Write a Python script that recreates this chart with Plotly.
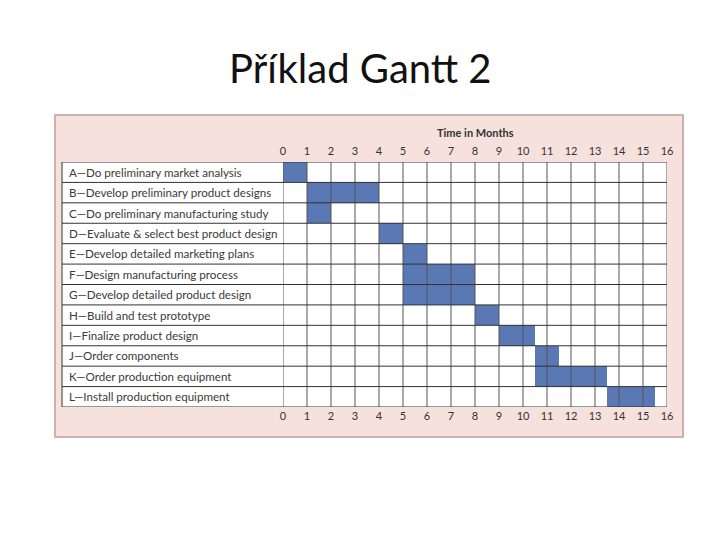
import plotly.graph_objects as go

tasks = [
    "A—Do preliminary market analysis",
    "B—Develop preliminary product designs",
    "C—Do preliminary manufacturing study",
    "D—Evaluate & select best product design",
    "E—Develop detailed marketing plans",
    "F—Design manufacturing process",
    "G—Develop detailed product design",
    "H—Build and test prototype",
    "I—Finalize product design",
    "J—Order components",
    "K—Order production equipment",
    "L—Install production equipment",
]
starts = [0, 1, 1, 4, 5, 5, 5, 8, 9, 10.5, 10.5, 13.5]
ends = [1, 4, 2, 5, 6, 8, 8, 9, 10.5, 11.5, 13.5, 15.5]
months = list(range(0, 17))

n = len(tasks)
dur = [e - s for s, e in zip(starts, ends)]
rows = [i + 0.5 for i in range(n)]

OFF = 8  # page body margin
W, H = 720, 540
L = 62 - OFF
R = W - (667 - OFF)
T = 162 - OFF
B = H - (407 - OFF)
pw = W - L - R
ph = H - T - B
dom0 = (283 - 62) / pw

def px_x(p):
    return (p - OFF - L) / pw
def px_y(p):
    return (H - B - (p - OFF)) / ph

fig = go.Figure()
fig.add_trace(go.Bar(
    y=rows, x=dur, base=starts, orientation="h", width=1,
    marker=dict(color="#5a78b3", line=dict(width=0)),
    hoverinfo="skip", showlegend=False,
))
fig.add_trace(go.Scatter(x=[0, 16], y=[0, 0], xaxis="x2", mode="markers",
                         marker=dict(opacity=0), showlegend=False, hoverinfo="skip"))

shapes = []
# pink panel
shapes.append(dict(type="rect", xref="paper", yref="paper",
                   x0=px_x(55), x1=px_x(683), y0=px_y(437), y1=px_y(115),
                   fillcolor="#f6e1dc", line=dict(color="#cdb0b0", width=2), layer="below"))
# white table area
shapes.append(dict(type="rect", xref="paper", yref="paper",
                   x0=0, x1=1, y0=0, y1=1, fillcolor="white",
                   line=dict(width=0), layer="below"))
# vertical grid lines
for m in months:
    shapes.append(dict(type="line", xref="x", yref="paper", x0=m, x1=m, y0=0, y1=1,
                       line=dict(color="#555555", width=1), layer="above"))
# horizontal row lines
for i in range(n + 1):
    shapes.append(dict(type="line", xref="paper", yref="y", x0=0, x1=1, y0=i, y1=i,
                       line=dict(color="#333333", width=1), layer="above"))
# left border of label column
shapes.append(dict(type="line", xref="paper", yref="paper", x0=0, x1=0, y0=0, y1=1,
                   line=dict(color="#333333", width=1), layer="above"))

annotations = []
for i, t in enumerate(tasks):
    annotations.append(dict(text=t, xref="paper", yref="y", x=px_x(67), y=i + 0.5,
                            xanchor="left", yanchor="middle", showarrow=False,
                            font=dict(family="Lato", size=11.6, color="#3a3a3a")))
annotations.append(dict(text="<b>Time in Months</b>", xref="x", yref="paper", x=8,
                        y=px_y(132), xanchor="center", yanchor="middle", showarrow=False,
                        font=dict(family="Lato", size=11, color="#333333")))
annotations.append(dict(text="Příklad Gantt 2", xref="paper", yref="paper", x=px_x(360),
                        y=px_y(68), xanchor="center", yanchor="middle", showarrow=False,
                        font=dict(family="Lato", size=40, color="#111111")))

axis_common = dict(range=[0, 16], domain=[dom0, 1], tickvals=months, ticktext=[str(m) for m in months],
                   showgrid=False, zeroline=False, showline=False, ticks="",
                   tickfont=dict(family="Lato", size=11, color="#333333"), fixedrange=True)

fig.update_layout(
    width=W, height=H,
    margin=dict(l=L, r=R, t=T, b=B, pad=0),
    paper_bgcolor="white", plot_bgcolor="rgba(0,0,0,0)",
    xaxis=dict(side="top", ticklabelstandoff=4, **axis_common),
    xaxis2=dict(side="bottom", overlaying="x", ticklabelstandoff=1, **axis_common),
    yaxis=dict(range=[n, 0], showticklabels=False, showgrid=False, zeroline=False,
               showline=False, ticks=""),
    shapes=shapes, annotations=annotations, bargap=0,
)

fig.write_html("out.html")
